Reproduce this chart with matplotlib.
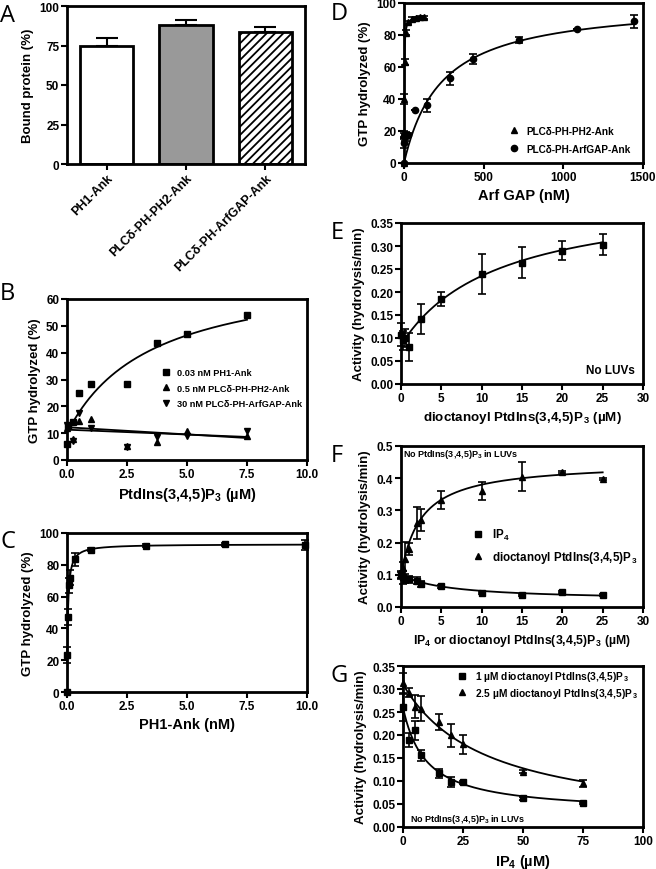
import numpy as np
import matplotlib
matplotlib.use("Agg")
import matplotlib.pyplot as plt

plt.rcParams['font.family'] = ['Liberation Sans', 'DejaVu Sans']
plt.rcParams['font.weight'] = 'bold'
plt.rcParams['axes.labelweight'] = 'bold'
plt.rcParams['mathtext.fontset'] = 'custom'
plt.rcParams['mathtext.rm'] = 'Liberation Sans:bold'
plt.rcParams['mathtext.it'] = 'Liberation Sans:bold'
plt.rcParams['mathtext.bf'] = 'Liberation Sans:bold'
plt.rcParams['mathtext.default'] = 'rm'
plt.rcParams['hatch.linewidth'] = 1.3

# ---- panel A: bound protein ----
a_names = ['PH1-Ank', 'PLCδ-PH-PH2-Ank', 'PLCδ-PH-ArfGAP-Ank']
a_vals = [75, 88, 83.5]
a_err = [5, 3, 3]

# ---- panel B: GTP hydrolyzed vs PtdIns(3,4,5)P3 ----
b_x_sq = [0, 0.03, 0.25, 0.5, 1.0, 2.5, 3.75, 5.0, 7.5]
b_y_sq = [6, 12.5, 14, 25, 28.5, 28.5, 43.5, 47, 54]
b_x_up = [0, 0.25, 0.5, 1.0, 2.5, 3.75, 5.0, 7.5]
b_y_up = [12, 7.8, 14.6, 15.3, 5.3, 6.8, 10.9, 9.1]
b_x_dn = [0, 0.25, 0.5, 1.0, 2.5, 3.75, 5.0, 7.5]
b_y_dn = [13, 7.2, 17.6, 11.8, 4.9, 8.6, 8.8, 10.9]
b_labels = ['0.03 nM PH1-Ank', '0.5 nM PLCδ-PH-PH2-Ank', '30 nM PLCδ-PH-ArfGAP-Ank']
b_fit_sq = (10, 62, 3.5)          # y0, Bmax, K
b_line_up = (11.3, 8.6)           # y at 0 and 7.5
b_line_dn = (12.2, 8.2)

# ---- panel C: GTP hydrolyzed vs PH1-Ank ----
c_x = [0, 0.01, 0.03, 0.066, 0.13, 0.33, 1.0, 3.3, 6.6, 9.9]
c_y = [0, 23, 47, 67, 72, 83.5, 89.5, 92, 93, 92.5]
c_e = [0, 5, 5, 5, 5, 4, 1, 1, 1, 3]
c_fit = (93, 0.035)

# ---- panel D: GTP hydrolyzed vs Arf GAP ----
d_x_tri = [0, 1.25, 2.5, 5, 10, 25, 50, 75, 100, 125]
d_y_tri = [0, 18, 40, 63, 81.5, 88, 90, 90.5, 91, 91]
d_e_tri = [0, 2, 3, 2, 1.5, 1, 1, 1, 1, 1]
d_x_cir = [0, 1.4, 3, 7, 15, 22, 70, 142, 287, 432, 722, 1088, 1444]
d_y_cir = [0, 12.5, 17, 16, 17.5, 17.5, 33, 36, 53, 65, 77, 84, 88.5]
d_e_cir = [0, 3, 2, 2, 2, 1, 0, 4, 4, 3, 2, 0, 4]
d_labels = ['PLCδ-PH-PH2-Ank', 'PLCδ-PH-ArfGAP-Ank']
d_fit_tri = (92, 1.3)
d_fit_cir = (101, 235)

# ---- panel E: activity vs soluble PtdIns(3,4,5)P3 ----
e_x = [0, 0.25, 0.5, 1, 2.5, 5, 10, 15, 20, 25]
e_y = [0.107, 0.095, 0.10, 0.081, 0.141, 0.185, 0.239, 0.264, 0.29, 0.303]
e_e = [0.025, 0.02, 0.02, 0.03, 0.033, 0.015, 0.043, 0.033, 0.02, 0.023]
e_fit = (0.085, 0.33, 12)

# ---- panel F: activity vs IP4 or soluble PtdIns(3,4,5)P3 ----
f_x = [0, 0.25, 0.5, 1, 2, 2.5, 5, 10, 15, 20, 25]
f_y_sq = [0.10, 0.092, 0.088, 0.086, 0.082, 0.072, 0.064, 0.044, 0.036, 0.047, 0.036]
f_e_sq = [0.012, 0.02, 0.015, 0.01, 0.01, 0.01, 0.004, 0.004, 0.003, 0.003, 0.003]
f_y_tri = [0.10, 0.12, 0.148, 0.18, 0.26, 0.27, 0.332, 0.36, 0.405, 0.418, 0.397]
f_e_tri = [0.01, 0.02, 0.055, 0.02, 0.05, 0.035, 0.027, 0.028, 0.045, 0.003, 0.003]
f_labels = ['IP$_4$', r'dioctanoyl PtdIns(3,4,5)P$_{\,3}$']
f_fit_sq = (0.10, 0.08, 6)
f_fit_tri = (0.10, 0.35, 2.5)

# ---- panel G: activity vs IP4 ----
g_x = [0, 2.5, 5, 7.5, 15, 20, 25, 50, 75]
g_y_sq = [0.261, 0.19, 0.21, 0.156, 0.117, 0.098, 0.097, 0.062, 0.052]
g_e_sq = [0.03, 0.015, 0.02, 0.012, 0.01, 0.01, 0.003, 0.003, 0.003]
g_y_tri = [0.312, 0.292, 0.261, 0.257, 0.228, 0.199, 0.18, 0.12, 0.095]
g_e_tri = [0.023, 0.01, 0.025, 0.027, 0.018, 0.025, 0.021, 0.003, 0.008]
g_labels = [r'1 µM dioctanoyl PtdIns(3,4,5)P$_{\,3}$', r'2.5 µM dioctanoyl PtdIns(3,4,5)P$_{\,3}$']
g_fit_sq = (0.26, 0.03, 9.5)      # top, bottom, IC50
g_fit_tri = (0.31, 0.0, 35)

XL = 10.5   # x label size
YL = 9.5    # y label size
TK = 8.5    # tick label size


def hyper(x, y0, bmax, k):
    return y0 + bmax * x / (k + x)


def inhib(x, top, bottom, ic50):
    return bottom + (top - bottom) / (1 + x / ic50)


def style(ax):
    for s in ax.spines.values():
        s.set_linewidth(2)
    ax.tick_params(direction='out', length=4, width=1.5, labelsize=TK, pad=1.5)
    for t in ax.get_xticklabels() + ax.get_yticklabels():
        t.set_fontweight('bold')


def letter(x, y, s):
    fig.text(x / 656, 1 - y / 870, s, fontsize=17, fontweight='normal',
             family='Open Sans', va='top', ha='left')


fig = plt.figure(figsize=(6.56, 8.7), dpi=100)

def axes_px(l, t, r, b):
    return fig.add_axes([l / 656, 1 - b / 870, (r - l) / 656, (b - t) / 870])

mk = dict(color='black', ms=4.5, capsize=3, elinewidth=1.2, capthick=1.2,
          linestyle='none', clip_on=False, zorder=3)
leg = dict(frameon=False, handletextpad=0.6, handlelength=1.2, borderaxespad=0)

# A
axA = axes_px(67, 7, 305, 165)
pos = np.arange(len(a_names))
bars = axA.bar(pos, a_vals, width=0.67, color=['white', '#999999', 'white'],
               edgecolor='black', linewidth=2, zorder=2)
bars[2].set_hatch('////')
axA.errorbar(pos, a_vals, yerr=[np.zeros(3), a_err], fmt='none', ecolor='black',
             elinewidth=1.5, capsize=8, capthick=1.5, zorder=1)
axA.set_xlim(-0.5, 2.5)
axA.set_ylim(0, 100)
axA.set_yticks([0, 25, 50, 75, 100])
axA.set_xticks(pos)
axA.set_xticklabels(a_names, rotation=45, ha='right', rotation_mode='anchor')
axA.set_ylabel('Bound protein (%)', fontsize=YL)
style(axA)
axA.tick_params(axis='x', labelsize=9)

# B
axB = axes_px(67, 300, 307, 461)
xs = np.linspace(0.2, 7.5, 200)
axB.plot(xs, hyper(xs, *b_fit_sq), color='black', lw=1.3)
axB.plot([0, 7.5], b_line_up, color='black', lw=1.3)
axB.plot([0, 7.5], b_line_dn, color='black', lw=1.3)
axB.plot(b_x_sq, b_y_sq, 's', color='black', ms=4.5, clip_on=False, label=b_labels[0])
axB.plot(b_x_up, b_y_up, '^', color='black', ms=4.5, clip_on=False, label=b_labels[1])
axB.plot(b_x_dn, b_y_dn, 'v', color='black', ms=4.5, clip_on=False, label=b_labels[2])
axB.set_xlim(0, 10)
axB.set_ylim(0, 60)
axB.set_xticks([0, 2.5, 5, 7.5, 10])
axB.set_xticklabels(['0.0', '2.5', '5.0', '7.5', '10.0'])
axB.set_yticks(range(0, 61, 10))
axB.set_xlabel('PtdIns(3,4,5)P$_3$ (µM)', fontsize=XL)
axB.set_ylabel('GTP hydrolyzed (%)', fontsize=YL)
axB.legend(loc='center left', bbox_to_anchor=(0.374, 0.447),
           prop=dict(size=6.6, weight='bold'), labelspacing=0.68, **leg)
style(axB)

# C
axC = axes_px(67, 534, 307, 693)
xs = np.linspace(0, 9.9, 600)
axC.plot(xs, hyper(xs, 0, *c_fit), color='black', lw=1.3)
axC.errorbar(c_x, c_y, yerr=c_e, fmt='s', **mk)
axC.set_xlim(0, 10)
axC.set_ylim(0, 100)
axC.set_xticks([0, 2.5, 5, 7.5, 10])
axC.set_xticklabels(['0.0', '2.5', '5.0', '7.5', '10.0'])
axC.set_yticks(range(0, 101, 20))
axC.set_xlabel('PH1-Ank (nM)', fontsize=XL)
axC.set_ylabel('GTP hydrolyzed (%)', fontsize=YL)
style(axC)

# D
axD = axes_px(404, 4, 643, 164)
xs = np.linspace(0, 125, 300)
axD.plot(xs, hyper(xs, 0, *d_fit_tri), color='black', lw=1.3)
xs = np.linspace(0, 1444, 300)
axD.plot(xs, hyper(xs, 0, *d_fit_cir), color='black', lw=1.3)
axD.errorbar(d_x_tri, d_y_tri, yerr=d_e_tri, fmt='^', label=d_labels[0], **mk)
axD.errorbar(d_x_cir, d_y_cir, yerr=d_e_cir, fmt='o', label=d_labels[1], **mk)
axD.set_xlim(0, 1500)
axD.set_ylim(0, 100)
axD.set_xticks([0, 500, 1000, 1500])
axD.set_yticks(range(0, 101, 20))
axD.set_xlabel('Arf GAP (nM)', fontsize=XL)
axD.set_ylabel('GTP hydrolyzed (%)', fontsize=YL)
h, l = axD.get_legend_handles_labels()
axD.legend([x[0] for x in h], l, loc='center left', bbox_to_anchor=(0.418, 0.144),
           prop=dict(size=7.2, weight='bold'), labelspacing=0.8, **leg)
style(axD)

# E
axE = axes_px(401, 224, 643, 385)
xs = np.linspace(0, 25, 300)
axE.plot(xs, hyper(xs, *e_fit), color='black', lw=1.3)
axE.errorbar(e_x, e_y, yerr=e_e, fmt='s', **mk)
axE.set_xlim(0, 30)
axE.set_ylim(0, 0.35)
axE.set_xticks(range(0, 31, 5))
axE.set_yticks(np.arange(0, 0.351, 0.05))
axE.set_yticklabels(['%.2f' % v for v in np.arange(0, 0.351, 0.05)])
axE.set_xlabel(r'dioctanoyl PtdIns(3,4,5)P$_{\,3}$ (µM)', fontsize=9.6)
axE.set_ylabel('Activity (hydrolysis/min)', fontsize=YL)
axE.text(0.965, 0.09, 'No LUVs', transform=axE.transAxes, ha='right', va='center',
         fontsize=8.5, fontweight='bold')
style(axE)

# F
axF = axes_px(401, 447, 643, 608)
xs = np.linspace(0, 25, 300)
axF.plot(xs, hyper(xs, f_fit_sq[0], -f_fit_sq[1], f_fit_sq[2]), color='black', lw=1.3)
axF.plot(xs, hyper(xs, *f_fit_tri), color='black', lw=1.3)
axF.errorbar(f_x, f_y_sq, yerr=f_e_sq, fmt='s', label=f_labels[0], **mk)
axF.errorbar(f_x, f_y_tri, yerr=f_e_tri, fmt='^', label=f_labels[1], **mk)
axF.set_xlim(0, 30)
axF.set_ylim(0, 0.5)
axF.set_xticks(range(0, 31, 5))
axF.set_yticks(np.arange(0, 0.51, 0.1))
axF.set_yticklabels(['%.1f' % v for v in np.arange(0, 0.51, 0.1)])
axF.set_xlabel(r'IP$_4$ or dioctanoyl PtdIns(3,4,5)P$_{\,3}$ (µM)', fontsize=8.8)
axF.set_ylabel('Activity (hydrolysis/min)', fontsize=YL)
h, l = axF.get_legend_handles_labels()
axF.legend([x[0] for x in h], l, loc='center left', bbox_to_anchor=(0.27, 0.38),
           prop=dict(size=8.4, weight='bold'), labelspacing=0.6, **leg)
axF.text(0.01, 0.955, 'No PtdIns(3,4,5)P$_3$ in LUVs', transform=axF.transAxes,
         ha='left', va='center', fontsize=6.5, fontweight='bold')
style(axF)

# G
axG = axes_px(403, 667, 643, 828)
xs = np.linspace(0, 75, 300)
axG.plot(xs, inhib(xs, *g_fit_sq), color='black', lw=1.3)
axG.plot(xs, inhib(xs, *g_fit_tri), color='black', lw=1.3)
axG.errorbar(g_x, g_y_sq, yerr=g_e_sq, fmt='s', label=g_labels[0], **mk)
axG.errorbar(g_x, g_y_tri, yerr=g_e_tri, fmt='^', label=g_labels[1], **mk)
axG.set_xlim(0, 100)
axG.set_ylim(0, 0.35)
axG.set_xticks([0, 25, 50, 75, 100])
axG.set_yticks(np.arange(0, 0.351, 0.05))
axG.set_yticklabels(['%.2f' % v for v in np.arange(0, 0.351, 0.05)])
axG.set_xlabel('IP$_4$ (µM)', fontsize=XL)
axG.set_ylabel('Activity (hydrolysis/min)', fontsize=YL)
h, l = axG.get_legend_handles_labels()
axG.legend([x[0] for x in h], l, loc='center left', bbox_to_anchor=(0.205, 0.885),
           prop=dict(size=7.4, weight='bold'), labelspacing=0.25, **leg)
axG.text(0.03, 0.05, 'No PtdIns(3,4,5)P$_3$ in LUVs', transform=axG.transAxes,
         ha='left', va='center', fontsize=6.5, fontweight='bold')
style(axG)

letter(0, 4, 'A')
letter(0, 282, 'B')
letter(0, 530, 'C')
letter(331, 2, 'D')
letter(331, 221, 'E')
letter(331, 444, 'F')
letter(330, 664, 'G')

fig.savefig('out.png', dpi=100)
